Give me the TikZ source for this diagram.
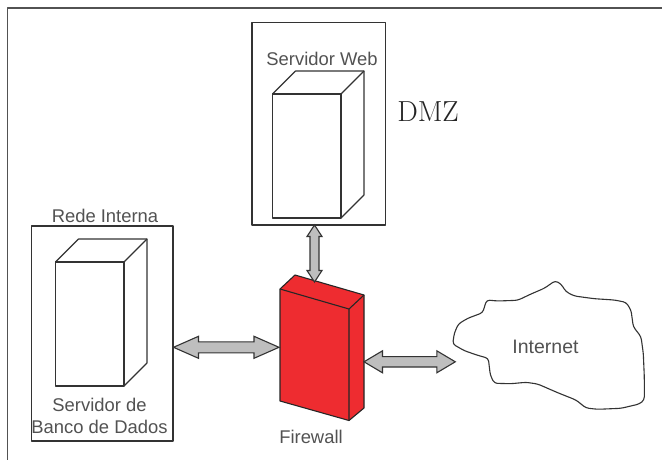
\documentclass[tikz,border=0pt]{standalone}
\usepackage{fontspec}
\setsansfont{Liberation Sans}
\usetikzlibrary{calc}
\definecolor{ink}{HTML}{333333}
\definecolor{fwred}{HTML}{EE2C30}
\definecolor{arrowgray}{HTML}{BEBEBE}
\tikzset{
  x=1pt,y=-1pt,
  edge/.style={draw=ink,line width=1.1pt,line join=round},
  framebox/.style={edge,fill=white,rectangle,inner sep=0pt},
  lab/.style={font=\sffamily\fontsize{18.4}{21.5}\selectfont,text=ink!85!white,inner sep=0pt,align=center},
  blockarrow/.style={edge,fill=arrowgray,line join=miter}
}
% #1 start, #2 end, #3 head length, #4 head half width, #5 shaft half width
\newcommand{\dblarrow}[5]{%
  \draw[blockarrow] (#1)
   -- ($(#1)!#3!(#2)!#4!90:(#2)$)
   -- ($(#1)!#3!(#2)!#5!90:(#2)$)
   -- ($(#2)!#3!(#1)!#5!-90:(#1)$)
   -- ($(#2)!#3!(#1)!#4!-90:(#1)$)
   -- (#2)
   -- ($(#2)!#3!(#1)!#4!90:(#1)$)
   -- ($(#2)!#3!(#1)!#5!90:(#1)$)
   -- ($(#1)!#3!(#2)!#5!-90:(#2)$)
   -- ($(#1)!#3!(#2)!#4!-90:(#2)$)
   -- cycle;}
\newcommand{\serverbox}[4]{%
  \draw[edge,fill=white] (#1,#2) rectangle (#3,#4);
  \draw[edge] (#1,#2) -- ++(23,-23) -- ($(#3,#2)+(23,-23)$) -- ($(#3,#4)+(23,-23)$) -- (#3,#4);
  \draw[edge] (#3,#2) -- ++(23,-23);}
\begin{document}
\begin{tikzpicture}
\useasboundingbox (0,0) rectangle (662,460);
\fill[white] (0,0) rectangle (662,460);
% outer frame
\coordinate (frameA) at (7.5,460);
\coordinate (frameB) at (7.5,8);
\coordinate (frameC) at (662,8);
\draw[edge,draw=ink!85!white] (frameA) -- (frameB) -- (frameC);
% boxes
\node[framebox,minimum width=133.5pt,minimum height=202.5pt] (web) at (318.75,123.75) {};
\node[framebox,minimum width=141.5pt,minimum height=215pt] (rede) at (102.25,333.5) {};
% servers
\serverbox{272.5}{94}{341}{218}
\serverbox{55.5}{262}{124}{386}
% firewall
\coordinate (fA) at (280,289);
\coordinate (fB) at (295,275);
\coordinate (fC) at (364,295);
\coordinate (fD) at (349,309);
\coordinate (fE) at (349,420.5);
\coordinate (fF) at (280,401);
\coordinate (fG) at (364,408);
\draw[edge,fill=fwred,draw=black!85!white] (fA) -- (fB) -- (fC) -- (fG) -- (fE) -- (fF) -- cycle;
\draw[edge,draw=black!85!white] (fA) -- (fD) -- (fC) (fD) -- (fE);
% cloud
\draw[edge,fill=white,rounded corners=3pt] (452.7,344) -- (454.3,333.3) -- (458.3,324) -- (467.7,318.3) -- (482.7,312.7) -- (484.3,307.3) -- (486.7,300) -- (497.7,301) -- (517.7,300.3) -- (531,294) -- (544.3,288.3) -- (555.3,280.7) -- (561,284) -- (566,291.7) -- (574.3,296) -- (594.3,298.7) -- (614.3,300) -- (626,302.3) -- (631,310) -- (633.3,326.7) -- (641,336.7) -- (643.3,353.3) -- (644.3,376.7) -- (644.3,400) -- (639.3,404) -- (621,408.3) -- (597.7,409.3) -- (586,408) -- (576,400) -- (557.7,392.7) -- (537.7,384) -- (526,382.3) -- (511,383.7) -- (494.3,383.3) -- (490.3,375) -- (488.3,358.3) -- (477.7,355.3) -- (464.3,350.7) -- cycle;
% arrows
\coordinate (lA) at (173.5,347.3);
\coordinate (lB) at (279,347.3);
\coordinate (vA) at (314.5,225);
\coordinate (vB) at (314.5,282);
\coordinate (rA) at (364,361.8);
\coordinate (rB) at (455.3,361.8);
\dblarrow{lA}{lB}{25pt}{11pt}{5.5pt}
\dblarrow{vA}{vB}{11.5pt}{7.5pt}{4.5pt}
\dblarrow{rA}{rB}{18.5pt}{11pt}{5.2pt}
% labels
\node[lab] (tWeb) at (322,59) {Servidor Web};
\node[lab] (tRede) at (105,216) {Rede Interna};
\node[lab] (tDb) at (99.5,416) {Servidor de\\Banco de Dados};
\node[lab] (tFw) at (311,437) {Firewall};
\node[lab,font=\sffamily\fontsize{19.5}{22}\selectfont] (tNet) at (545.5,346.5) {Internet};
\node[inner sep=0pt,text=ink!70!black,font=\fontsize{29}{32}\selectfont] (tDmz) at (428,112) {DMZ};
\end{tikzpicture}
\end{document}
